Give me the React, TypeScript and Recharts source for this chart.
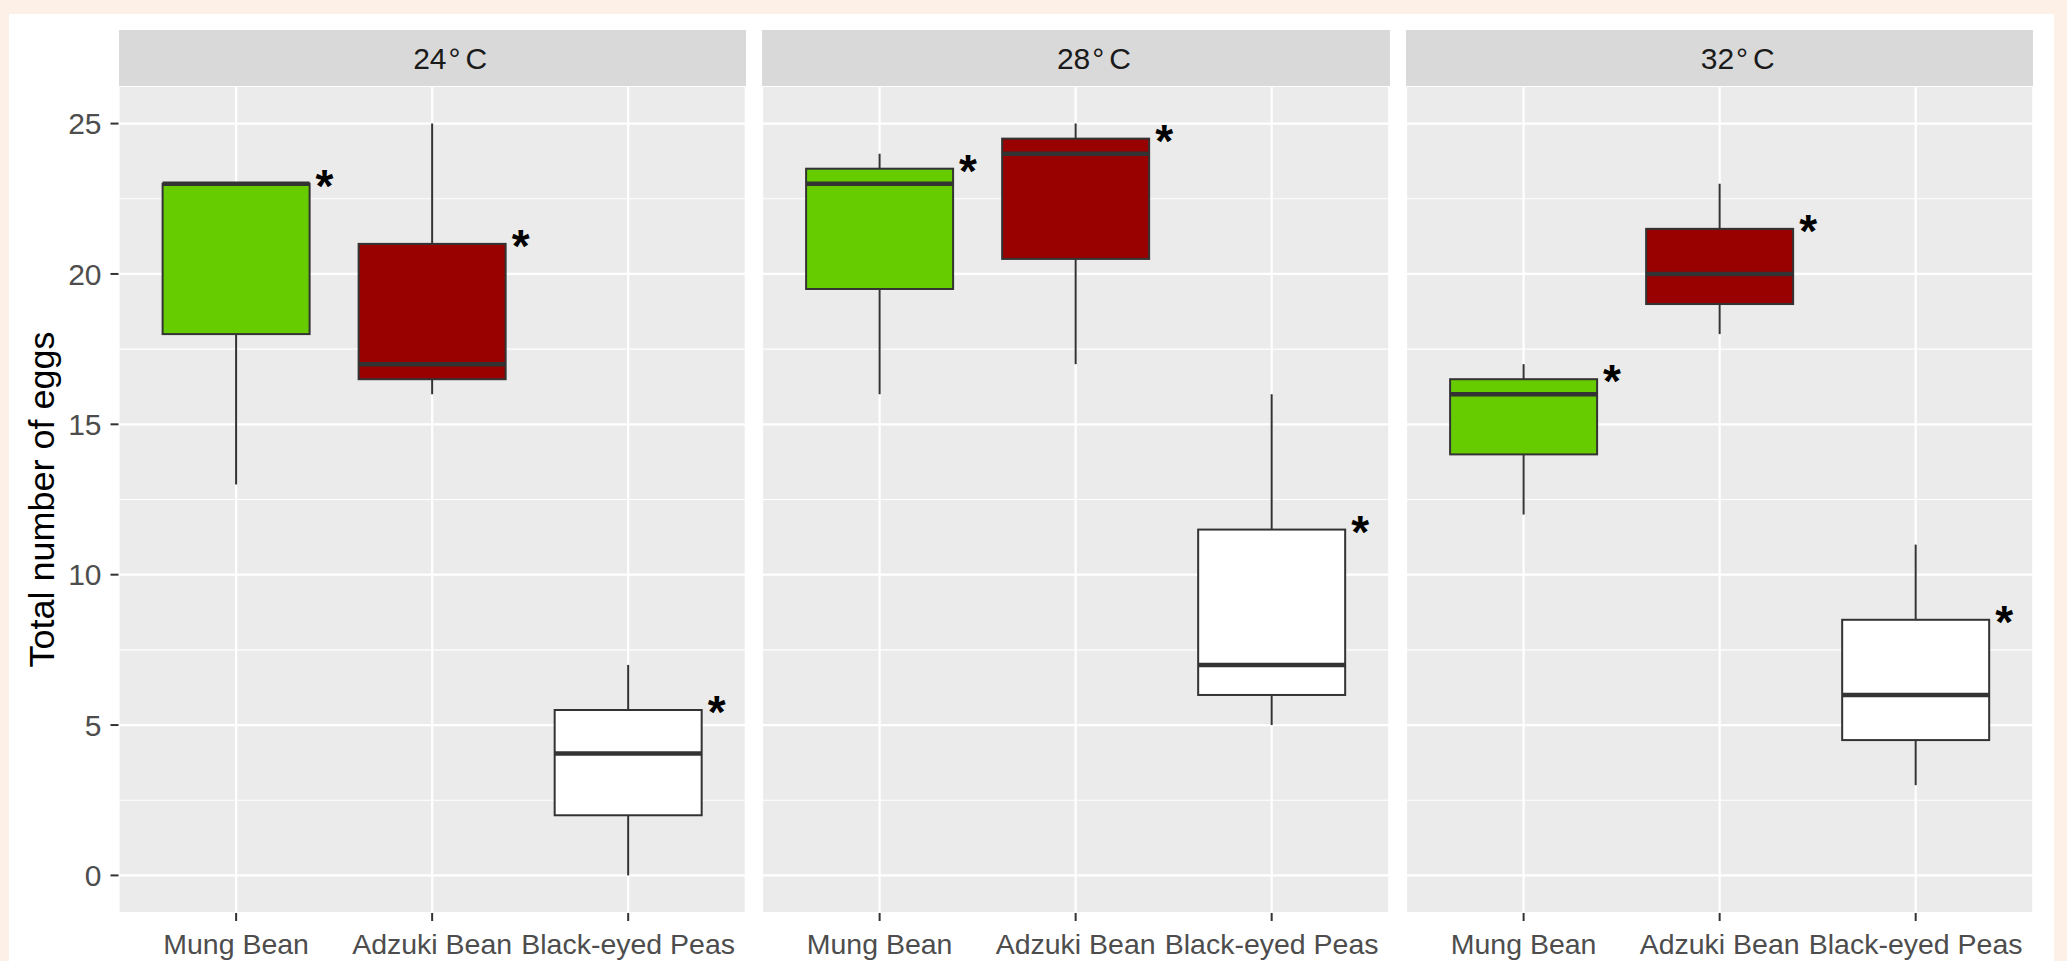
import React from 'react';
import { ComposedChart, Bar, XAxis, YAxis, CartesianGrid } from 'recharts';

const categories = ['Mung Bean', 'Adzuki Bean', 'Black-eyed Peas'];
const panelTemps = ['24', '28', '32'];
const boxFills = ['#66CC00', '#990000', '#FFFFFF'];

// [lower whisker, Q1, median, Q3, upper whisker] per category
const stats24 = [
  [13, 18, 23, 23, 23],
  [16, 16.5, 17, 21, 25],
  [0, 2, 4.05, 5.5, 7],
];
const stats28 = [
  [16, 19.5, 23, 23.5, 24],
  [17, 20.5, 24, 24.5, 25],
  [5, 6, 7, 11.5, 16],
];
const stats32 = [
  [12, 14, 16, 16.5, 17],
  [18, 19, 20, 21.5, 23],
  [3, 4.5, 6, 8.5, 11],
];
const panelStats = [stats24, stats28, stats32];

const yTicks = [0, 5, 10, 15, 20, 25];
const yMinor = [2.5, 7.5, 12.5, 17.5, 22.5];
const yDomain = [-1.25, 26.25];

const FONT = '"Liberation Sans", Arial, sans-serif';

const buildRows = (stats: number[][]) =>
  categories.map((cat, i) => ({
    cat,
    low: stats[i][0],
    q1: stats[i][1],
    med: stats[i][2],
    q3: stats[i][3],
    high: stats[i][4],
    fill: boxFills[i],
    range: [stats[i][0], stats[i][4]],
  }));

const BoxShape = (props: any) => {
  const { x, y, width, height, payload } = props;
  if (!payload) return null;
  const top = Math.min(y, y + height);
  const h = Math.abs(height);
  const { low, q1, med, q3, high, fill } = payload;
  const span = high - low || 1;
  const py = (v: number) => top + ((high - v) / span) * h;
  const cx = x + width / 2;
  return (
    <g>
      <line x1={cx} x2={cx} y1={py(high)} y2={py(q3)} stroke="#333333" strokeWidth={2} />
      <line x1={cx} x2={cx} y1={py(q1)} y2={py(low)} stroke="#333333" strokeWidth={2} />
      <rect x={x} y={py(q3)} width={width} height={py(q1) - py(q3)} fill={fill} stroke="#333333" strokeWidth={2} />
      <line x1={x} x2={x + width} y1={py(med)} y2={py(med)} stroke="#333333" strokeWidth={4.5} />
      <text x={x + width + 6} y={py(q3) + 18} fontSize={46} fontWeight="bold" fill="#000000" fontFamily={FONT}>*</text>
    </g>
  );
};

const PLOT_W = 627.3;
const PLOT_H = 827;
const YAXIS_W = 118.5;
const GAP = 16.5;
const PLOT_TOP = 86;
const CHART_H = 961 - PLOT_TOP;
const XAXIS_H = CHART_H - PLOT_H;
const CAT_PAD = 19.6;

const YTitle = (props: any) => {
  const vb = props.viewBox || {};
  const cx = (vb.x || 0) + 42;
  const cy = (vb.y || 0) + (vb.height || 0) / 2;
  return (
    <text x={cx} y={cy} transform={`rotate(-90, ${cx}, ${cy})`} textAnchor="middle" dominantBaseline="central" fontSize={36} fill="#000000" fontFamily={FONT}>
      Total number of eggs
    </text>
  );
};

const Panel = ({ idx }: { idx: number }) => {
  const withAxis = idx === 0;
  const rows = buildRows(panelStats[idx]);
  const plotLeft = YAXIS_W + idx * (PLOT_W + GAP);
  const chartLeft = withAxis ? 0 : plotLeft;
  const chartW = withAxis ? YAXIS_W + PLOT_W : PLOT_W;
  return (
    <>
      <div
        style={{
          position: 'absolute',
          left: plotLeft,
          top: 30,
          width: PLOT_W,
          height: PLOT_TOP - 30,
          background: '#D9D9D9',
          color: '#1A1A1A',
          fontFamily: FONT,
          fontSize: 30,
          display: 'flex',
          alignItems: 'center',
          justifyContent: 'center',
          boxSizing: 'border-box',
          paddingLeft: 36,
          paddingTop: 2,
        }}
      >
        <span>{panelTemps[idx]}</span>
        <span style={{ marginLeft: 2 }}>°</span>
        <span style={{ marginLeft: 5 }}>C</span>
      </div>
      <div style={{ position: 'absolute', left: chartLeft, top: PLOT_TOP }}>
        <ComposedChart
          width={chartW}
          height={CHART_H}
          data={rows}
          margin={{ top: 0, right: 0, bottom: 0, left: 0 }}
          barCategoryGap="12.5%"
        >
          <CartesianGrid stroke="#FFFFFF" strokeWidth={2.2} fill="#EBEBEB" fillOpacity={1} />
          <CartesianGrid stroke="#FFFFFF" strokeWidth={1.1} vertical={false} horizontalValues={yMinor} />
          <XAxis
            dataKey="cat"
            type="category"
            interval={0}
            padding={{ left: CAT_PAD, right: CAT_PAD }}
            height={XAXIS_H}
            axisLine={false}
            tickSize={8}
            tickMargin={13}
            tickLine={{ stroke: '#333333', strokeWidth: 2 }}
            tick={{ fontSize: 28.5, fill: '#4D4D4D', fontFamily: FONT }}
          />
          <YAxis
            type="number"
            domain={yDomain}
            ticks={yTicks}
            allowDataOverflow
            hide={!withAxis}
            width={withAxis ? YAXIS_W : 0}
            axisLine={false}
            tickSize={8}
            tickMargin={9}
            tickLine={{ stroke: '#333333', strokeWidth: 2 }}
            tick={{ fontSize: 30, fill: '#4D4D4D', fontFamily: FONT }}
            label={withAxis ? <YTitle /> : undefined}
          />
          <Bar dataKey="range" shape={<BoxShape />} isAnimationActive={false} />
        </ComposedChart>
      </div>
    </>
  );
};

export default function App() {
  return (
    <div style={{ position: 'absolute', left: 0, top: 0, width: 2067, height: 961, background: '#FDF0E7', overflow: 'hidden' }}>
      <div style={{ position: 'absolute', left: 9, top: 14, width: 2045, height: 947, background: '#FFFFFF' }} />
      {panelTemps.map((_, i) => (
        <Panel key={i} idx={i} />
      ))}
    </div>
  );
}
